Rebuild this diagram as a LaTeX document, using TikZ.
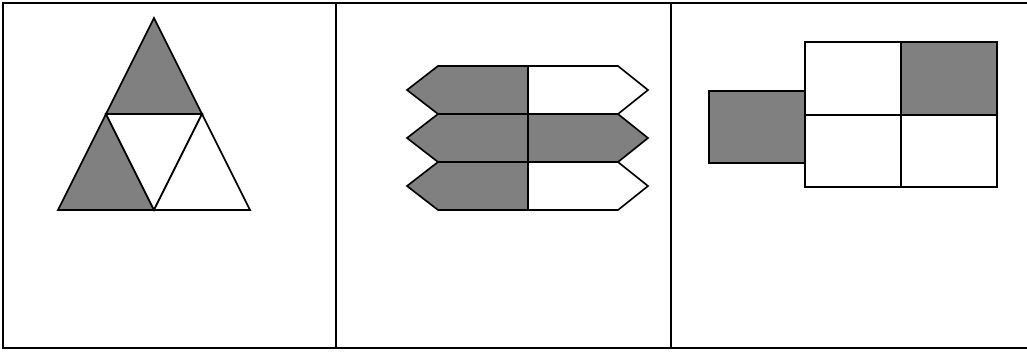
\documentclass[tikz,border=0pt]{standalone}
\usepackage{tikz}

\begin{document}
\begin{tikzpicture}[x=0.03cm,y=-0.03cm,line join=miter]
\tikzstyle{piece}=[draw,line width=1.4pt]
\tikzstyle{dark}=[piece,fill=black!50]
\tikzstyle{light}=[piece,fill=white]
\useasboundingbox (0,0) rectangle (1027,352);
% frame
\draw[line width=1.6pt] (1027,3) -- (3,3) -- (3,348) -- (1027,348);
\draw[line width=1.6pt] (336,3) -- (336,348);
\draw[line width=1.6pt] (671,3) -- (671,348);
% triangles
\coordinate (apex) at (154,18);
\coordinate (bl) at (58,210);
\coordinate (br) at (250,210);
\coordinate (ml) at (106,114);
\coordinate (mr) at (202,114);
\coordinate (mb) at (154,210);
\draw[dark] (apex) -- (ml) -- (mr) -- cycle;
\draw[dark] (bl) -- (ml) -- (mb) -- cycle;
\draw[light] (ml) -- (mr) -- (mb) -- cycle;
\draw[light] (mb) -- (mr) -- (br) -- cycle;
% half hexagons
\foreach \y/\lf/\rf in {66/dark/light,114/dark/dark,162/dark/light}{
  \draw[\lf] (528,\y) -- (438,\y) -- (407,\y+24) -- (438,\y+48) -- (528,\y+48) -- cycle;
  \draw[\rf] (528,\y) -- (618,\y) -- (648,\y+24) -- (618,\y+48) -- (528,\y+48) -- cycle;
}
% squares
\draw[dark] (709,91) rectangle (805,163);
\draw[light] (805,42) rectangle (901,115);
\draw[dark] (901,42) rectangle (997,115);
\draw[light] (805,115) rectangle (901,187);
\draw[light] (901,115) rectangle (997,187);
\end{tikzpicture}
\end{document}
